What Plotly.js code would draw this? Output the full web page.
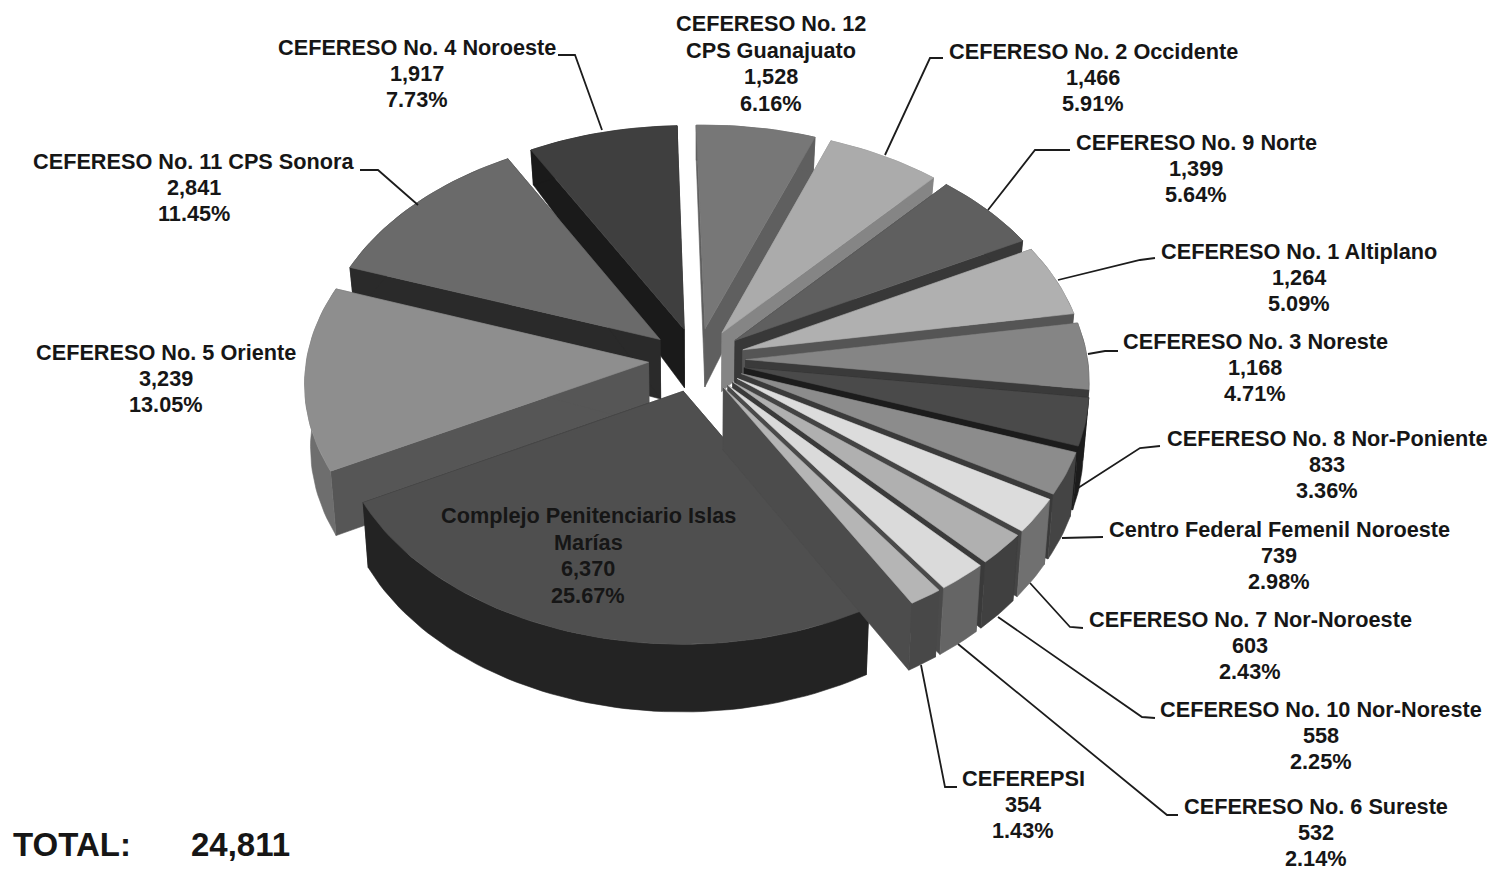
<!DOCTYPE html>
<html><head><meta charset="utf-8">
<script src="https://cdn.plot.ly/plotly-3.0.1.min.js"></script>
<style>html,body{margin:0;padding:0;background:#fff;overflow:hidden}#c{width:1507px;height:871px}</style>
</head><body><div id="c"></div>
<script>
// ---- data, clockwise from the top ----
const categories = ["CEFERESO No. 12<br>CPS Guanajuato","CEFERESO No. 2 Occidente","CEFERESO No. 9 Norte","CEFERESO No. 1 Altiplano","CEFERESO No. 3 Noreste","CEFERESO No. 8 Nor-Poniente","Centro Federal Femenil Noroeste","CEFERESO No. 7 Nor-Noroeste","CEFERESO No. 10 Nor-Noreste","CEFERESO No. 6 Sureste","CEFEREPSI","Complejo Penitenciario Islas<br>Marías","CEFERESO No. 5 Oriente","CEFERESO No. 11 CPS Sonora","CEFERESO No. 4 Noroeste"];
const values = [1528,1466,1399,1264,1168,833,739,603,558,532,354,6370,3239,2841,1917];
const percents = ["6.16%","5.91%","5.64%","5.09%","4.71%","3.36%","2.98%","2.43%","2.25%","2.14%","1.43%","25.67%","13.05%","11.45%","7.73%"];
const totalLabel = "TOTAL:";
const totalValue = "24,811";

// ---- styles ----
const topColors  = ["#777777","#ababab","#5f5f5f","#b0b0b0","#858585","#4a4a4a","#8c8c8c","#dcdcdc","#b0b0b0","#dadada","#b5b5b5","#4f4f4f","#8e8e8e","#6a6a6a","#3f3f3f"];
const cutColors  = ["#5f5f5f","#858585","#383838","#555555","#3a3a3a","#1c1c1c","#3a3a3a","#444444","#3a3a3a","#4a4a4a","#4c4c4c","#2a2a2a","#565656","#2a2a2a","#1a1a1a"];
const sideColors = ["#5f5f5f","#858585","#383838","#555555","#3a3a3a","#1c1c1c","#444444","#707070","#404040","#656565","#484848","#232323","#6e6e6e","#2a2a2a","#1a1a1a"];
const drawOrder  = [14,0,13,1,2,3,4,12,11,5,6,7,8,9,10];

// ---- layout of labels ----
const labelX = [771,1093,1196,1299,1255,1327,1279,1250,1321,1316,1023,588,166,194,417];
const labelY = [64,78,169,278,368,465,556,646,736,833,805,556,379,188,74];
const lineGap = 26.4;
const leaders = [
 null,
 [[943,58],[930,58],[885,155]],
 [[1070,150],[1035,150],[988,210]],
 [[1155,258],[1140,260],[1058,280]],
 [[1118,351],[1105,351],[1088,354]],
 [[1160,446],[1140,448],[1078,488]],
 [[1103,537],[1062,538]],
 [[1083,628],[1070,627],[1030,583]],
 [[1155,718],[1142,717],[998,617]],
 [[1178,815],[1167,815],[958,644]],
 [[957,787],[945,787],[921,665]],
 null,null,
 [[360,170],[378,170],[418,205]],
 [[558,55],[575,55],[602,130]]
];

// ---- projection of the tilted, exploded pie ----
const cx=697, cy=360, A=342, B=226, K=0.085, EXPLODE=0.142, ROT=-1.5;
const depth = y => y<0 ? 62+27*Math.max(y,-1) : 62+5*y;
function proj(x,y,low){
  const f=1/(1-K*y); let X=cx+A*x*f, Y=cy+B*y*f;
  if(low){ X=cx+(X-cx)*0.985; Y+=depth(y); }
  return [X,Y];
}
const total = values.reduce((a,b)=>a+b,0);
const rad = d=>d*Math.PI/180;
const traces=[];
function poly(pts,color){
  const xs=pts.map(p=>p[0]).concat([pts[0][0]]), ys=pts.map(p=>p[1]).concat([pts[0][1]]);
  traces.push({type:'scatter',mode:'lines',x:xs,y:ys,fill:'toself',fillcolor:color,
    line:{width:0.6,color:color},hoverinfo:'skip',showlegend:false});
}
let acc=0; const slices=values.map(v=>{const s=acc/total*360+ROT; acc+=v; return {a0:s,a1:acc/total*360+ROT};});
drawOrder.forEach(i=>{
  const {a0,a1}=slices[i], m=rad((a0+a1)/2);
  const ox=EXPLODE*Math.sin(m), oy=-EXPLODE*Math.cos(m);
  const arc=[]; const n=Math.max(3,Math.ceil((a1-a0)/1.5));
  for(let j=0;j<=n;j++){const t=rad(a0+(a1-a0)*j/n); arc.push([ox+Math.sin(t),oy-Math.cos(t)]);}
  const apexT=proj(ox,oy,false), apexB=proj(ox,oy,true);
  const arcT=arc.map(p=>proj(p[0],p[1],false)), arcB=arc.map(p=>proj(p[0],p[1],true));
  poly([apexT,arcT[0],arcB[0],apexB],cutColors[i]);
  poly([apexT,arcT[n],arcB[n],apexB],cutColors[i]);
  poly(arcT.concat(arcB.slice().reverse()),sideColors[i]);
  poly([apexT].concat(arcT),topColors[i]);
});
leaders.forEach(l=>{ if(!l) return;
  traces.push({type:'scatter',mode:'lines',x:l.map(p=>p[0]),y:l.map(p=>p[1]),
    line:{width:1.8,color:'#1c1c1c'},hoverinfo:'skip',showlegend:false});
});
const font={family:'"Liberation Sans",Arial,sans-serif',size:21.7,color:'#161616'};
const annotations=[];
categories.forEach((c,i)=>{
  const lines=c.split('<br>').concat([values[i].toLocaleString('en-US'),percents[i]]);
  lines.forEach((t,j)=>annotations.push({xref:'x',yref:'y',x:labelX[i],y:labelY[i]+(j-(lines.length-1)/2)*lineGap-0.5,
    showarrow:false,xanchor:'center',yanchor:'middle',align:'center',font:font,text:'<b>'+t+'</b>'}));
});
annotations.push({xref:'x',yref:'y',x:11,y:844,xanchor:'left',yanchor:'middle',showarrow:false,
  font:{family:font.family,size:33,color:'#161616'},text:'<b>'+totalLabel+'</b>'});
annotations.push({xref:'x',yref:'y',x:189,y:844,xanchor:'left',yanchor:'middle',showarrow:false,
  font:{family:font.family,size:33,color:'#161616'},text:'<b>'+totalValue+'</b>'});
Plotly.newPlot('c',traces,{
  width:1507,height:871,margin:{l:0,r:0,t:0,b:0},paper_bgcolor:'#fff',plot_bgcolor:'#fff',showlegend:false,
  xaxis:{range:[0,1507],visible:false,fixedrange:true},
  yaxis:{range:[871,0],visible:false,fixedrange:true},
  annotations:annotations
},{displayModeBar:false,staticPlot:true});
</script></body></html>
